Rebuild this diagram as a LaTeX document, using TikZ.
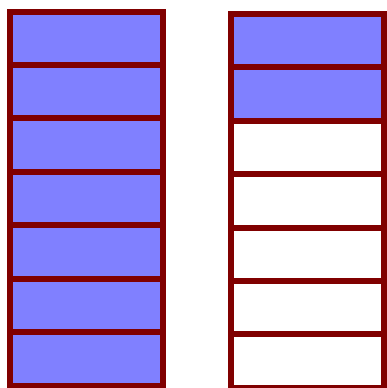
\documentclass[tikz,border=0pt]{standalone}
\definecolor{cellblue}{HTML}{8080FF}
\definecolor{cellred}{HTML}{800000}
\tikzset{
  cell/.style={draw=cellred, line width=6pt, minimum width=153pt, minimum height=53.45pt, inner sep=0pt, outer sep=0pt},
  full/.style={cell, fill=cellblue},
  empty/.style={cell, fill=white}
}
\begin{document}
\begin{tikzpicture}[x=1pt,y=-1pt]
\useasboundingbox (0,0) rectangle (387,388);
\begin{scope}
\clip (0,0) rectangle (387,388);
\foreach \i in {1,...,7}{
  \node[full] (l\i) at (86.5, {11.5+53.45*(\i-0.5)}) {};
}
\foreach \i in {1,...,7}{
  \pgfmathsetmacro{\st}{ifthenelse(\i<3,"full","empty")}
  \ifnum\i<3
    \node[full] (r\i) at (307.35, {13.7+53.45*(\i-0.5)}) {};
  \else
    \node[empty] (r\i) at (307.35, {13.7+53.45*(\i-0.5)}) {};
  \fi
}
\end{scope}
\end{tikzpicture}
\end{document}
